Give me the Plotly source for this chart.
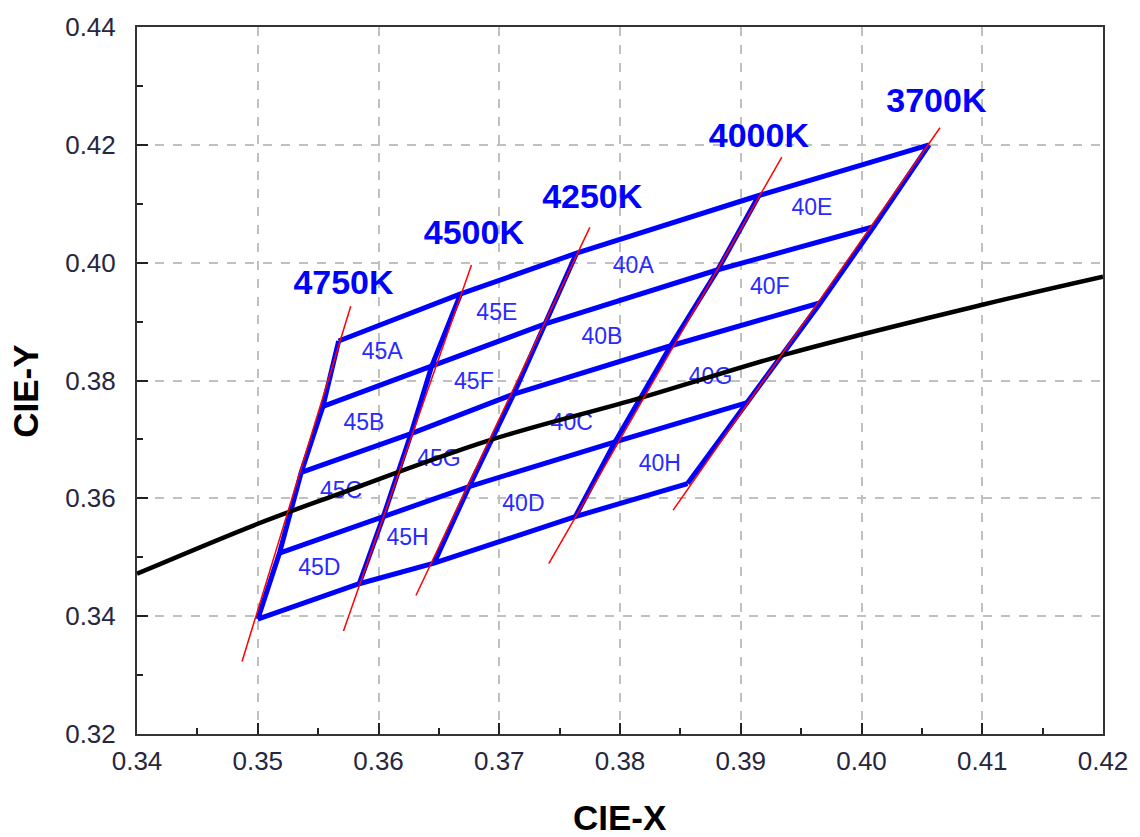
import plotly.graph_objects as go

# ---- data ----
cct_names = ["4750K", "4500K", "4250K", "4000K", "3700K"]
# corners of each isotherm on the five duv rows (top -> bottom)
iso_x = {
    "4750K": [0.3567, 0.3554, 0.3536, 0.3518, 0.3500],
    "4500K": [0.3668, 0.3644, 0.3627, 0.3604, 0.3584],
    "4250K": [0.3764, 0.3738, 0.3712, 0.3675, 0.3646],
    "4000K": [0.3915, 0.3881, 0.3842, 0.3796, 0.3763],
    "3700K": [0.4056, 0.4010, 0.3966, 0.3906, 0.3856],
}
iso_y = {
    "4750K": [0.3867, 0.3756, 0.3644, 0.3507, 0.3395],
    "4500K": [0.3947, 0.3824, 0.3710, 0.3569, 0.3455],
    "4250K": [0.4016, 0.3896, 0.3777, 0.3620, 0.3490],
    "4000K": [0.4114, 0.3988, 0.3859, 0.3696, 0.3569],
    "3700K": [0.4200, 0.4061, 0.3932, 0.3763, 0.3625],
}
# straight red isotherm lines (top end, bottom end)
red_x = {
    "4750K": [0.3577, 0.3487],
    "4500K": [0.3677, 0.3571],
    "4250K": [0.3775, 0.3631],
    "4000K": [0.3934, 0.3741],
    "3700K": [0.4065, 0.3844],
}
red_y = {
    "4750K": [0.3926, 0.3323],
    "4500K": [0.3996, 0.3375],
    "4250K": [0.4060, 0.3435],
    "4000K": [0.4179, 0.3489],
    "3700K": [0.4229, 0.3580],
}
# temperature label positions
cct_label_x = [0.3571, 0.3679, 0.3777, 0.3915, 0.4062]
cct_label_y = [0.3962, 0.4046, 0.4107, 0.4211, 0.4271]

# bin labels
bin_names = ["45A", "45B", "45C", "45D", "45E", "45F", "45G", "45H",
             "40A", "40B", "40C", "40D", "40E", "40F", "40G", "40H"]
bin_x = [0.3603, 0.3588, 0.3569, 0.3551, 0.3698, 0.3679, 0.3650, 0.3624,
         0.3811, 0.3785, 0.3760, 0.3720, 0.3959, 0.3924, 0.3875, 0.3833]
bin_y = [0.3847, 0.3725, 0.3611, 0.3479, 0.3912, 0.3795, 0.3665, 0.3530,
         0.3992, 0.3871, 0.3725, 0.3589, 0.4090, 0.3956, 0.3803, 0.3656]

# black locus line
locus_x = [0.3400, 0.3499, 0.3565, 0.3691, 0.3818, 0.3942, 0.4101, 0.4200]
locus_y = [0.3472, 0.3556, 0.3606, 0.3698, 0.3771, 0.3847, 0.3929, 0.3976]

x_ticks = [0.34, 0.35, 0.36, 0.37, 0.38, 0.39, 0.40, 0.41, 0.42]
y_ticks = [0.32, 0.34, 0.36, 0.38, 0.40, 0.42, 0.44]

FONT = "Liberation Sans, Arial, sans-serif"
BLUE = "#0000ff"

fig = go.Figure()

# bin labels (under the lines)
fig.add_trace(go.Scatter(
    x=bin_x, y=bin_y, text=bin_names, mode="text",
    textfont=dict(family=FONT, size=23, color="#2a2aff"),
    hoverinfo="skip", showlegend=False))

# blue grid: rows and isotherm columns
gx, gy = [], []
for r in range(5):
    for c in cct_names:
        gx.append(iso_x[c][r]); gy.append(iso_y[c][r])
    gx.append(None); gy.append(None)
for c in cct_names:
    gx += iso_x[c] + [None]
    gy += iso_y[c] + [None]
fig.add_trace(go.Scatter(x=gx, y=gy, mode="lines",
                         line=dict(color=BLUE, width=5),
                         hoverinfo="skip", showlegend=False))

# black locus
fig.add_trace(go.Scatter(x=locus_x, y=locus_y, mode="lines",
                         line=dict(color="black", width=4.5, shape="spline", smoothing=1.0),
                         hoverinfo="skip", showlegend=False))

# red isotherm lines
rx, ry = [], []
for c in cct_names:
    rx += red_x[c] + [None]
    ry += red_y[c] + [None]
fig.add_trace(go.Scatter(x=rx, y=ry, mode="lines",
                         line=dict(color="#ff0000", width=1.5),
                         hoverinfo="skip", showlegend=False))

# temperature labels
fig.add_trace(go.Scatter(
    x=cct_label_x, y=cct_label_y, text=cct_names, mode="text",
    textfont=dict(family=FONT, size=34, color=BLUE, weight="bold"),
    hoverinfo="skip", showlegend=False))

axis_common = dict(
    showline=True, linecolor="#333", linewidth=2, mirror=True,
    ticks="inside", ticklen=11, tickwidth=2, tickcolor="#222",
    showgrid=True, gridcolor="#c0c0c0", gridwidth=1.5, griddash="dash",
    zeroline=False, tickformat=".2f",
    tickfont=dict(family=FONT, size=26, color="#262640"),
)

fig.update_xaxes(range=[0.34, 0.42], tickvals=x_ticks, **axis_common,
                 minor=dict(dtick=0.005, ticks="inside", ticklen=6, tickwidth=2,
                            tickcolor="#222", showgrid=False),
                 ticklabelstandoff=3)
fig.update_yaxes(range=[0.32, 0.44], tickvals=y_ticks, **axis_common,
                 minor=dict(dtick=0.01, ticks="inside", ticklen=6, tickwidth=2,
                            tickcolor="#222", showgrid=False),
                 ticklabelstandoff=14)

fig.add_annotation(text="<b>CIE-X</b>", xref="paper", yref="paper",
                   x=0.5, y=-0.118, xanchor="center", yanchor="middle",
                   showarrow=False, font=dict(family=FONT, size=35, color="black"))
fig.add_annotation(text="<b>CIE-Y</b>", xref="paper", yref="paper",
                   x=-0.1155, y=0.4846, xanchor="center", yanchor="middle",
                   textangle=-90,
                   showarrow=False, font=dict(family=FONT, size=35, color="black"))

fig.update_layout(
    width=1140, height=837,
    margin=dict(l=137, r=32, t=17, b=103),
    paper_bgcolor="white", plot_bgcolor="white",
    showlegend=False,
)

fig.write_html("out.html", config={"displayModeBar": False},
               post_script="document.body.style.margin='0';document.body.style.overflow='hidden';")
